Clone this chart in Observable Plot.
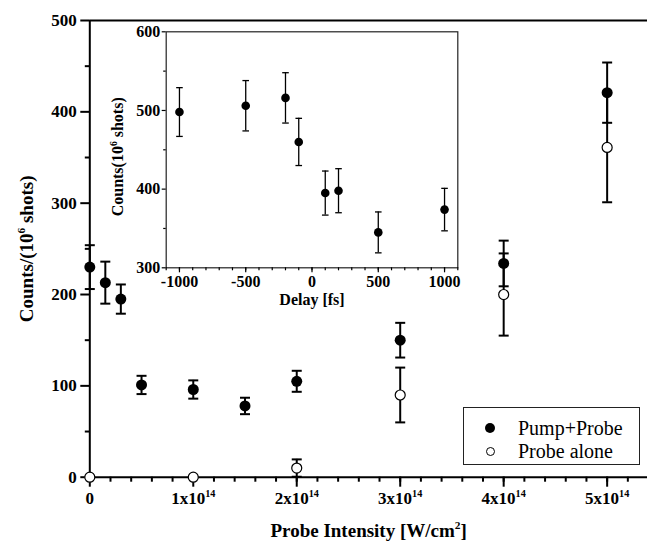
<!DOCTYPE html>
<html>
<head>
<meta charset="utf-8">
<script src="https://cdn.jsdelivr.net/npm/d3@7"></script>
<script src="https://cdn.jsdelivr.net/npm/@observablehq/plot@0.6"></script>
<style>
  html, body { margin: 0; padding: 0; background: white; }
  #wrap { position: relative; width: 647px; height: 548px; }
  #wrap svg { position: absolute; left: 0; top: 0; }
  #legend {
    position: absolute; left: 463px; top: 407px; width: 177px; height: 58px;
    border: 1.2px solid #222; background: white; box-sizing: border-box; color: #000;
  }
  #legend .row { position: absolute; left: 0; height: 22px; line-height: 22px; white-space: nowrap; }
  #legend .sym { position: absolute; border-radius: 50%; box-sizing: border-box; }
  #legend .lab { position: absolute; left: 54px; top: 0; }
</style>
</head>
<body>
<div id="wrap"></div>
<script>
// ---------- Main chart data ----------
const pumpIntensity = [0, 0.15e14, 0.3e14, 0.5e14, 1e14, 1.5e14, 2e14, 3e14, 4e14, 5e14];
const pumpCounts    = [230, 213, 195, 101, 96, 78, 105, 150, 234, 421];
const pumpError     = [24, 23, 16, 10, 10, 9, 11.5, 19, 25, 33];

const probeIntensity = [0, 1e14, 2e14, 3e14, 4e14, 5e14];
const probeCounts    = [0, 0, 10, 90, 200, 361];
const probeError     = [0, 0, 9.5, 30, 45, 60];

const xMajorTicks = [0, 1e14, 2e14, 3e14, 4e14, 5e14];
const xMinorTicks = d3.range(0, 27).map(i => i * 0.2e14);
const yMajorTicks = [0, 100, 200, 300, 400, 500];
const yMinorTicks = [50, 150, 250, 350, 450];

// ---------- Inset data ----------
const delay      = [-1000, -500, -200, -100, 100, 200, 500, 1000];
const delayCount = [498, 506, 516, 460, 395, 398, 345, 374];
const delayError = [31, 32, 32, 30, 28, 28, 26, 27];

const insetXMajor = [-1000, -500, 0, 500, 1000];
const insetXMinor = d3.range(-11, 12).map(i => i * 100);
const insetYMajor = [300, 400, 500, 600];
const insetYMinor = [350, 450, 550];

const legendLabels = ["Pump+Probe", "Probe alone"];

// ---------- tables ----------
const pump = pumpIntensity.map((x, i) => ({x, y: pumpCounts[i], e: pumpError[i]}));
const probe = probeIntensity.map((x, i) => ({x, y: probeCounts[i], e: probeError[i]}));
const ins = delay.map((x, i) => ({x, y: delayCount[i], e: delayError[i]}));
const errs = [...probe, ...pump].filter(d => d.e > 0);

const capSymbol = {
  draw(ctx, size) {
    const w = Math.sqrt(size / Math.PI);
    ctx.moveTo(-w, 0); ctx.lineTo(w, 0);
  }
};

const serif = "'Liberation Serif', 'Times New Roman', serif";
const W = 647, H = 548;

const fmtX = d => d === 0 ? "0" : `${Math.round(d / 1e14)}x10^{14}`;

const main = Plot.plot({
  width: W, height: H,
  marginLeft: 89.3, marginRight: 0, marginTop: 20, marginBottom: 71.3,
  x: {domain: [0, 5.39e14]},
  y: {domain: [0, 500]},
  style: {fontFamily: serif, fontWeight: "bold", fontSize: "17px", background: "white", color: "black", overflow: "visible"},
  marks: [
    Plot.ruleY([0, 500], {strokeWidth: 2}),
    Plot.ruleX([0], {strokeWidth: 2}),
    Plot.axisY(yMajorTicks, {tickSize: 9, tickPadding: 4, strokeWidth: 2, label: null, fontSize: 17}),
    Plot.axisY(yMinorTicks, {tickSize: 4.5, strokeWidth: 2, tickFormat: () => "", label: null}),
    Plot.axisX(xMajorTicks, {tickSize: 10, tickPadding: 5, strokeWidth: 2, tickFormat: fmtX, label: null, fontSize: 17}),
    Plot.axisX(xMinorTicks, {tickSize: 5, strokeWidth: 2, tickFormat: () => "", label: null}),
    Plot.ruleX(errs, {x: "x", y1: d => d.y - d.e, y2: d => d.y + d.e, strokeWidth: 2}),
    Plot.dot(errs, {x: "x", y: d => d.y - d.e, symbol: capSymbol, r: 5, stroke: "black", strokeWidth: 2, fill: "none"}),
    Plot.dot(errs, {x: "x", y: d => d.y + d.e, symbol: capSymbol, r: 5, stroke: "black", strokeWidth: 2, fill: "none"}),
    Plot.dot(probe, {x: "x", y: "y", r: 5, fill: "white", stroke: "black", strokeWidth: 1.2}),
    Plot.dot(pump, {x: "x", y: "y", r: 5.5, fill: "black", stroke: "none"}),
    Plot.text(["Counts/(10^{6} shots)"], {frameAnchor: "left", rotate: -90, dx: -63, textAnchor: "middle", fontSize: 19}),
    Plot.text(["Probe Intensity [W/cm^{2}]"], {frameAnchor: "bottom", dy: 60, textAnchor: "middle", fontSize: 19})
  ]
});

const inset = Plot.plot({
  width: W, height: H,
  marginLeft: 165.7, marginRight: 189.7, marginTop: 31.3, marginBottom: 280.7,
  x: {domain: [-1100, 1100]},
  y: {domain: [300, 600]},
  style: {fontFamily: serif, fontWeight: "bold", fontSize: "16px", background: "transparent", color: "black", overflow: "visible"},
  marks: [
    Plot.frame({stroke: "#222", strokeWidth: 1.2, fill: "white"}),
    Plot.axisY(insetYMajor, {tickSize: 4, tickPadding: 2, strokeWidth: 1.2, label: null, fontSize: 16, tickFormat: d => String(d)}),
    Plot.axisY(insetYMinor, {tickSize: 2.5, strokeWidth: 1.2, tickFormat: () => "", label: null}),
    Plot.axisX(insetXMajor, {tickSize: 5, tickPadding: 3, strokeWidth: 1.2, label: null, fontSize: 16, tickFormat: d => String(d)}),
    Plot.axisX(insetXMinor, {tickSize: 3, strokeWidth: 1.2, tickFormat: () => "", label: null}),
    Plot.ruleX(ins, {x: "x", y1: d => d.y - d.e, y2: d => d.y + d.e, strokeWidth: 1.3}),
    Plot.dot(ins, {x: "x", y: d => d.y - d.e, symbol: capSymbol, r: 3.3, stroke: "black", strokeWidth: 1.3, fill: "none"}),
    Plot.dot(ins, {x: "x", y: d => d.y + d.e, symbol: capSymbol, r: 3.3, stroke: "black", strokeWidth: 1.3, fill: "none"}),
    Plot.dot(ins, {x: "x", y: "y", r: 4.3, fill: "black", stroke: "none"}),
    Plot.text(["Counts(10^{6} shots)"], {frameAnchor: "left", rotate: -90, dx: -48, dy: 7, textAnchor: "middle", fontSize: 16}),
    Plot.text(["Delay [fs]"], {frameAnchor: "bottom", dy: 37, textAnchor: "middle", fontSize: 16})
  ]
});

const wrap = document.getElementById("wrap");
wrap.appendChild(main);
wrap.appendChild(inset);

// Legend (HTML)
const legend = document.createElement("div");
legend.id = "legend";
legend.style.fontFamily = '"Liberation Serif", "Times New Roman", serif';
legend.style.fontSize = "20px";
legend.style.fontWeight = "normal";
const symbols = [
  {fill: "#000", border: "none", size: 10},
  {fill: "#fff", border: "1.2px solid #000", size: 9}
];
legendLabels.forEach((lab, i) => {
  const row = document.createElement("div");
  row.className = "row";
  row.style.top = (i === 0 ? 8.5 : 32) + "px";
  row.style.width = "100%";
  const s = document.createElement("span");
  s.className = "sym";
  const sz = symbols[i].size;
  s.style.width = sz + "px"; s.style.height = sz + "px";
  s.style.left = (26 - sz / 2) + "px"; s.style.top = (11 - sz / 2) + "px";
  s.style.background = symbols[i].fill; s.style.border = symbols[i].border;
  const t = document.createElement("span");
  t.className = "lab";
  t.textContent = lab;
  row.appendChild(s); row.appendChild(t);
  legend.appendChild(row);
});
wrap.appendChild(legend);

// Superscript post-processing: "^{...}" -> raised small tspan
function supify(svg) {
  d3.select(svg).selectAll("text").each(function () {
    const el = this;
    if (el.children.length) return;
    const s = el.textContent;
    if (!s.includes("^{")) return;
    const fs = parseFloat(getComputedStyle(el).fontSize) || 16;
    const parts = s.split(/\^\{([^}]*)\}/);
    el.textContent = "";
    const shift = fs * 0.42;
    let raised = false;
    parts.forEach((p, i) => {
      if (p === "") return;
      const ts = document.createElementNS("http://www.w3.org/2000/svg", "tspan");
      ts.textContent = p;
      if (i % 2 === 1) {
        ts.setAttribute("font-size", (fs * 0.6) + "px");
        ts.setAttribute("dy", (-shift) + "");
        raised = true;
      } else if (raised) {
        ts.setAttribute("dy", shift + "");
        raised = false;
      }
      el.appendChild(ts);
    });
  });
}
supify(main);
supify(inset);
</script>
</body>
</html>
